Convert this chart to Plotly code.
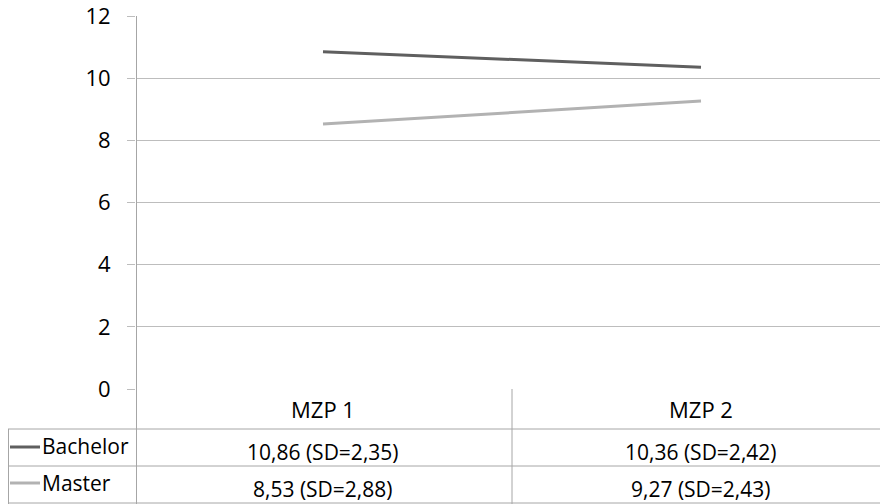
import plotly.graph_objects as go

categories = ["MZP 1", "MZP 2"]
series_names = ["Bachelor", "Master"]
bachelor = [10.86, 10.36]
master = [8.53, 9.27]
bachelor_sd = [2.35, 2.42]
master_sd = [2.88, 2.43]
y_ticks = [0, 2, 4, 6, 8, 10, 12]

colors = {"Bachelor": "#5f5f5f", "Master": "#b2b2b2"}
FONT = "Open Sans"
W, H = 880, 504
ML = 136
MT = 16
MB = 504 - 389
PH = H - MT - MB
BOT = H - MB


def py(pix):
    """page pixel y -> paper y"""
    return (BOT - pix) / PH


def px(pix):
    """page pixel x -> paper x"""
    return (pix - ML) / (W - ML)


# categories centred at page x 323 and 701 (spacing 378 px)
unit = 378.0
x0_page = 323 - 0.5 * unit
xpos = [0.5, 1.5]
xmin = (ML - x0_page) / unit
xmax = (W - x0_page) / unit

fig = go.Figure()
for name, vals in [("Bachelor", bachelor), ("Master", master)]:
    fig.add_trace(go.Scatter(x=xpos, y=vals, mode="lines", name=name,
                             line=dict(color=colors[name], width=3),
                             showlegend=False, hoverinfo="skip"))

grid = "#bdbdbd"
tbl = "#a6a6a6"
shapes = []
shapes.append(dict(type="line", xref="paper", yref="paper",
                   x0=px(136.5), x1=px(136.5), y0=py(16), y1=py(504),
                   line=dict(color=tbl, width=1)))
shapes.append(dict(type="line", xref="x", yref="paper", x0=1.0, x1=1.0,
                   y0=py(389), y1=py(504), line=dict(color=tbl, width=1)))
for yy in [429, 466, 503]:
    shapes.append(dict(type="line", xref="paper", yref="paper",
                       x0=px(8), x1=1, y0=py(yy), y1=py(yy),
                       line=dict(color=tbl, width=1)))
shapes.append(dict(type="line", xref="paper", yref="paper",
                   x0=px(8.5), x1=px(8.5), y0=py(429), y1=py(504),
                   line=dict(color=tbl, width=1)))
for name, yy in [("Bachelor", 447), ("Master", 483)]:
    shapes.append(dict(type="line", xref="paper", yref="paper",
                       x0=px(10), x1=px(40), y0=py(yy), y1=py(yy),
                       line=dict(color=colors[name], width=3)))

annotations = []
tfont = dict(family=FONT, size=21, color="#000000")
hfont = dict(family=FONT, size=22, color="#000000")
for i, c in enumerate(categories):
    annotations.append(dict(x=xpos[i], y=py(409), xref="x", yref="paper",
                            text=c, showarrow=False, font=hfont,
                            xanchor="center", yanchor="middle"))
    annotations.append(dict(x=xpos[i], y=py(452), xref="x", yref="paper",
                            text=f"{bachelor[i]:.2f} (SD={bachelor_sd[i]:.2f})".replace(".", ","),
                            showarrow=False, font=tfont,
                            xanchor="center", yanchor="middle"))
    annotations.append(dict(x=xpos[i], y=py(489), xref="x", yref="paper",
                            text=f"{master[i]:.2f} (SD={master_sd[i]:.2f})".replace(".", ","),
                            showarrow=False, font=tfont,
                            xanchor="center", yanchor="middle"))
for name, yy in [("Bachelor", 446), ("Master", 483)]:
    annotations.append(dict(x=px(40), y=py(yy), xref="paper", yref="paper",
                            text=name, showarrow=False, font=tfont,
                            xanchor="left", yanchor="middle"))

fig.update_layout(
    width=W, height=H,
    margin=dict(l=ML, r=0, t=MT, b=MB, pad=0),
    paper_bgcolor="white", plot_bgcolor="white",
    font=dict(family=FONT, size=21, color="#000000"),
    hovermode=False,
    xaxis=dict(range=[xmin, xmax], showgrid=False, showticklabels=False,
               zeroline=False, showline=False, fixedrange=True),
    yaxis=dict(range=[0, 12.01], tickvals=y_ticks, ticks="outside", ticklen=8,
               tickcolor=grid, showgrid=True, gridcolor=grid, gridwidth=1,
               zeroline=False, showline=False, ticklabelstandoff=12,
               fixedrange=True,
               tickfont=dict(family=FONT, size=22, color="#000000")),
    shapes=shapes, annotations=annotations,
)
fig.write_html("out.html", config={"displayModeBar": False},
               post_script="document.body.style.margin='0';document.body.style.overflow='hidden';")
